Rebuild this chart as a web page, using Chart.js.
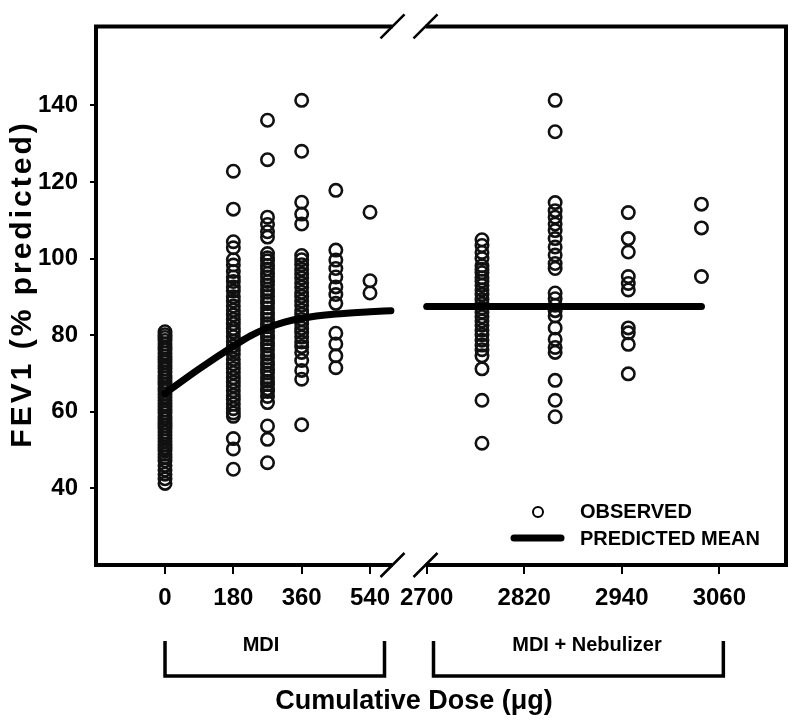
<!DOCTYPE html>
<html>
<head>
<meta charset="utf-8">
<script src="https://cdn.jsdelivr.net/npm/chart.js@4/dist/chart.umd.min.js"></script>
<style>
html, body { margin: 0; padding: 0; background: #fff; }
</style>
</head>
<body>
<canvas id="fevChart" width="800" height="727"></canvas>
<script>
// doses (ug) of each observed column
const mdiDoses = [0, 180, 270, 360, 450, 540];
const nebDoses = [2768, 2858, 2948, 3038];

// observed FEV1 (% predicted), one list per dose column
const fevMdi0 = [80.9, 80.1, 79.4, 78.6, 77.7, 76.9, 76.2, 75.3, 74.5, 73.6, 72.9, 72.0, 71.2, 70.4, 69.5, 68.8, 67.9, 67.1, 66.2, 65.5, 64.6, 63.8, 63.0, 62.1, 61.4, 60.5, 59.7, 58.8, 58.1, 57.2, 56.4, 55.6, 54.7, 53.9, 53.1, 52.3, 51.4, 50.6, 49.8, 48.9, 48.1, 47.2, 46.0, 44.8, 43.7, 42.5, 41.3];
const fevMdi180 = [122.8, 112.9, 104.4, 102.8, 99.7, 98.3, 96.6, 95.2, 94.0, 92.6, 91.5, 90.0, 88.9, 87.6, 86.5, 85.3, 84.1, 83.0, 81.7, 80.8, 79.6, 78.4, 77.2, 76.1, 75.0, 73.7, 72.5, 71.3, 70.2, 68.9, 67.8, 66.7, 65.5, 64.3, 63.2, 62.0, 60.8, 59.7, 58.8, 53.0, 50.3, 45.0];
const fevMdi270 = [136.1, 125.8, 110.8, 108.9, 107.0, 105.6, 101.3, 100.2, 99.4, 98.2, 97.3, 96.1, 95.2, 94.0, 93.1, 92.0, 91.2, 90.1, 89.0, 88.2, 87.1, 86.0, 85.2, 84.1, 83.0, 82.2, 81.1, 80.0, 79.1, 78.0, 77.2, 76.1, 75.0, 74.1, 73.0, 72.2, 71.0, 70.1, 69.0, 68.0, 67.1, 66.0, 65.3, 64.0, 62.4, 56.3, 52.8, 46.7];
const fevMdi360 = [141.3, 128.0, 114.7, 111.6, 109.0, 100.8, 99.7, 98.4, 97.2, 96.0, 94.9, 93.6, 92.5, 91.2, 90.1, 88.9, 87.8, 86.5, 85.4, 84.1, 83.0, 81.8, 80.7, 79.5, 78.2, 77.0, 75.5, 73.4, 70.8, 68.5, 56.6];
const fevMdi450 = [117.8, 102.2, 99.6, 97.4, 95.2, 92.6, 90.6, 88.3, 80.5, 77.7, 74.6, 71.5];
const fevMdi540 = [112.1, 94.2, 91.0];
const fevNeb2768 = [104.9, 103.4, 101.6, 100.0, 98.1, 97.2, 96.3, 95.0, 94.1, 93.0, 91.8, 90.6, 89.3, 88.2, 87.1, 86.0, 84.8, 83.7, 82.6, 81.3, 80.1, 78.7, 77.4, 76.2, 74.6, 71.2, 63.0, 51.8];
const fevNeb2858 = [141.3, 133.1, 114.6, 112.5, 110.8, 109.0, 107.3, 105.2, 103.0, 100.9, 98.7, 97.4, 91.0, 89.5, 87.8, 86.4, 85.0, 81.9, 78.9, 76.8, 75.5, 68.2, 63.0, 58.7];
const fevNeb2948 = [112.0, 105.2, 101.7, 95.3, 93.5, 91.8, 81.9, 80.6, 77.6, 69.9];
const fevNeb3038 = [114.2, 108.0, 95.3];

// predicted mean curve
const predMdiDose = [0, 90, 180, 225, 270, 315, 360, 450, 540, 595];
const predMdiFev = [64.8, 71.2, 77.1, 79.8, 81.9, 83.4, 84.4, 85.5, 86.1, 86.4];
const predNebDose = [2700, 3038];
const predNebFev = [87.5, 87.5];

// axis ticks and texts
const xLeftTicks = [0, 180, 360, 540];
const xRightTicks = [2700, 2820, 2940, 3060];
const yTicks = [40, 60, 80, 100, 120, 140];
const groupLabels = ['MDI', 'MDI + Nebulizer'];
const legendLabels = ['OBSERVED', 'PREDICTED MEAN'];
const xTitle = 'Cumulative Dose (\u03bcg)';
const yTitle = 'FEV1 (% predicted)';

const boldFont = "'Liberation Sans', Arial, sans-serif";

function toPoints(doses, cols) {
    return doses.flatMap((d, i) => cols[i].map(v => ({ x: d, y: v })));
}
function toLine(xs, ys) {
    return xs.map((x, i) => ({ x: x, y: ys[i] }));
}

const mdiObserved = toPoints(mdiDoses, [fevMdi0, fevMdi180, fevMdi270, fevMdi360, fevMdi450, fevMdi540]);
const nebObserved = toPoints(nebDoses, [fevNeb2768, fevNeb2858, fevNeb2948, fevNeb3038]);

const decorPlugin = {
    id: 'decor',
    afterDraw(chart) {
        const ctx = chart.ctx;
        const a = chart.chartArea;
        const xL = chart.scales.xL;
        const xR = chart.scales.xR;
        const gapL = xL.right - 16;
        const gapR = xR.left + 17;

        ctx.save();
        ctx.strokeStyle = '#000';
        ctx.fillStyle = '#000';

        // frame with a gap at the axis break
        ctx.lineWidth = 4;
        ctx.beginPath();
        ctx.moveTo(gapL, a.top);
        ctx.lineTo(a.left, a.top);
        ctx.lineTo(a.left, a.bottom);
        ctx.lineTo(gapL, a.bottom);
        ctx.moveTo(gapR, a.top);
        ctx.lineTo(a.right, a.top);
        ctx.lineTo(a.right, a.bottom);
        ctx.lineTo(gapR, a.bottom);
        ctx.stroke();

        // break marks
        ctx.lineWidth = 2.5;
        ctx.beginPath();
        [gapL, gapR].forEach(cx => {
            [a.top, a.bottom].forEach(cy => {
                ctx.moveTo(cx - 12, cy + 12);
                ctx.lineTo(cx + 12, cy - 12);
            });
        });
        ctx.stroke();

        // group brackets
        const bTop = 641, bBot = 676;
        const brackets = [
            [xL.getPixelForValue(0), gapL - 8],
            [gapR + 8, xR.getPixelForValue(3060) + 4]
        ];
        ctx.lineWidth = 3.5;
        ctx.beginPath();
        brackets.forEach(([x0, x1]) => {
            ctx.moveTo(x0, bTop);
            ctx.lineTo(x0, bBot);
            ctx.lineTo(x1, bBot);
            ctx.lineTo(x1, bTop);
        });
        ctx.stroke();

        ctx.textAlign = 'center';
        ctx.textBaseline = 'middle';
        ctx.font = 'bold 20px ' + boldFont;
        ctx.fillText(groupLabels[0], 261, 645);
        ctx.fillText(groupLabels[1], 587, 645);

        // x title
        ctx.font = 'bold 27px ' + boldFont;
        ctx.fillText(xTitle, 414, 702);

        // y title
        ctx.save();
        ctx.translate(23, 284);
        ctx.rotate(-Math.PI / 2);
        ctx.font = 'bold 30px ' + boldFont;
        ctx.letterSpacing = '3px';
        ctx.fillText(yTitle, 0, 0);
        ctx.restore();

        // legend
        ctx.textAlign = 'left';
        ctx.font = 'bold 20px ' + boldFont;
        ctx.lineWidth = 2;
        ctx.beginPath();
        ctx.arc(538, 512, 5, 0, Math.PI * 2);
        ctx.stroke();
        ctx.fillText(legendLabels[0], 580, 512);
        ctx.lineWidth = 7;
        ctx.lineCap = 'round';
        ctx.beginPath();
        ctx.moveTo(514, 538);
        ctx.lineTo(561, 538);
        ctx.stroke();
        ctx.fillText(legendLabels[1], 580, 539);
        ctx.restore();
    }
};

const tickFont = { family: boldFont, size: 24, weight: 'bold' };
const tickGrid = { drawOnChartArea: false, drawTicks: true, color: '#000', lineWidth: 2 };

const ctx = document.getElementById('fevChart').getContext('2d');
new Chart(ctx, {
    type: 'scatter',
    data: {
        datasets: [
            {
                label: legendLabels[1],
                data: toLine(predMdiDose, predMdiFev),
                xAxisID: 'xL',
                showLine: true,
                borderColor: '#000',
                borderWidth: 7,
                borderCapStyle: 'round',
                cubicInterpolationMode: 'monotone',
                pointRadius: 0,
                order: 0
            },
            {
                label: legendLabels[1],
                data: toLine(predNebDose, predNebFev),
                xAxisID: 'xR',
                showLine: true,
                borderColor: '#000',
                borderWidth: 7,
                borderCapStyle: 'round',
                pointRadius: 0,
                order: 0
            },
            {
                label: legendLabels[0],
                data: mdiObserved,
                xAxisID: 'xL',
                pointRadius: 6.2,
                pointBorderWidth: 2.6,
                borderColor: '#111',
                backgroundColor: 'rgba(0,0,0,0)',
                order: 1
            },
            {
                label: legendLabels[0],
                data: nebObserved,
                xAxisID: 'xR',
                pointRadius: 6.2,
                pointBorderWidth: 2.6,
                borderColor: '#111',
                backgroundColor: 'rgba(0,0,0,0)',
                order: 1
            }
        ]
    },
    options: {
        responsive: false,
        animation: false,
        layout: { padding: { top: 21, right: 14, left: 0, bottom: 0 } },
        plugins: {
            legend: { display: false },
            tooltip: { enabled: false }
        },
        scales: {
            xL: {
                type: 'linear',
                axis: 'x',
                position: 'bottom',
                stack: 'panels',
                stackWeight: 312.5,
                min: -181.8,
                max: 641.4,
                afterBuildTicks: s => { s.ticks = xLeftTicks.map(v => ({ value: v })); },
                afterFit: s => { s.height = 162; },
                border: { display: false },
                grid: Object.assign({ tickLength: 9 }, tickGrid),
                ticks: {
                    color: '#000',
                    font: tickFont,
                    padding: 10,
                    maxRotation: 0,
                    autoSkip: false,
                    callback: v => String(v)
                }
            },
            xR: {
                type: 'linear',
                axis: 'x',
                position: 'bottom',
                stack: 'panels',
                stackWeight: 377.5,
                min: 2677.6,
                max: 3142,
                afterBuildTicks: s => { s.ticks = xRightTicks.map(v => ({ value: v })); },
                afterFit: s => { s.height = 162; },
                border: { display: false },
                grid: Object.assign({ tickLength: 9 }, tickGrid),
                ticks: {
                    color: '#000',
                    font: tickFont,
                    padding: 10,
                    maxRotation: 0,
                    autoSkip: false,
                    callback: v => String(v)
                }
            },
            y: {
                type: 'linear',
                position: 'left',
                min: 20,
                max: 160.6,
                afterBuildTicks: s => { s.ticks = yTicks.map(v => ({ value: v })); },
                afterFit: s => { s.width = 96; },
                border: { display: false },
                grid: Object.assign({ tickLength: 6 }, tickGrid),
                ticks: {
                    color: '#000',
                    font: tickFont,
                    padding: 12,
                    callback: v => String(v)
                }
            }
        }
    },
    plugins: [decorPlugin]
});
</script>
</body>
</html>
